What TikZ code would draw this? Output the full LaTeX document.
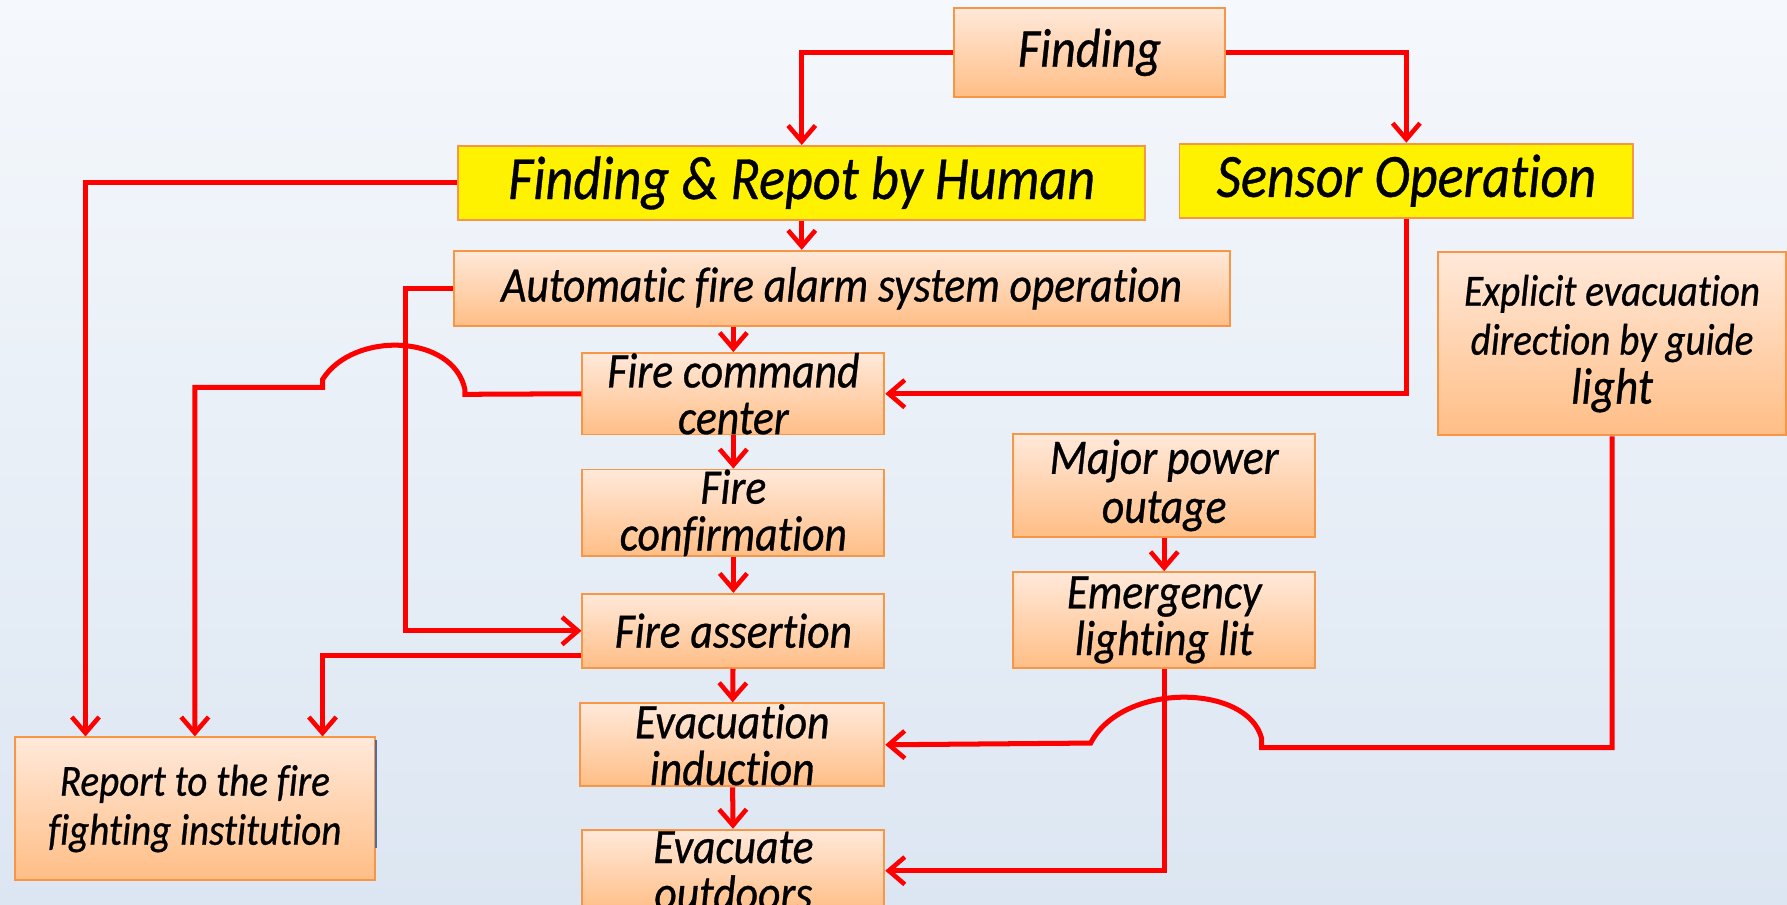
\documentclass[tikz,border=0pt]{standalone}
\usepackage{fontspec}
\usetikzlibrary{arrows.meta}
\newfontfamily\boxfont{Carlito}[FakeStretch=0.88, FakeBold=0.6, Ligatures=NoCommon]

\definecolor{bgtop}{HTML}{F5F8FC}
\definecolor{bgbot}{HTML}{DCE6F2}
\definecolor{boxtop}{HTML}{FFE9DA}
\definecolor{boxbot}{HTML}{FFBE86}
\definecolor{boxline}{HTML}{F79646}
\definecolor{wirered}{HTML}{FF0000}
\definecolor{edgeblue}{HTML}{4F6C9F}

\tikzset{
  flowbox/.style={draw=boxline, line width=1.6pt, top color=boxtop, bottom color=boxbot,
    align=center, inner sep=0pt, font=\boxfont\itshape\fontsize{43.5}{41}\selectfont},
  keybox/.style={draw=boxline, line width=1.6pt, fill=yellow,
    align=center, inner sep=0pt, font=\boxfont\itshape\fontsize{54}{56}\selectfont},
  small/.style={font=\boxfont\itshape\fontsize{39}{43}\selectfont},
  wire/.style={draw=wirered, line width=4.4pt, line join=miter},
  flow/.style={wire, -{Straight Barb[length=14pt,width=24pt,line width=4pt]}}
}

\begin{document}
\begin{tikzpicture}[x=1pt,y=-1pt]
  \shade[top color=bgtop,bottom color=bgbot] (0,0) rectangle (1568,794);
  \useasboundingbox (0,0) rectangle (1568,794);

  % boxes
  \node[flowbox, minimum width=238, minimum height=78, font=\boxfont\itshape\fontsize{48}{50}\selectfont]
    (finding) at (956,46) {Finding};
  \node[keybox, minimum width=603, minimum height=65] (human) at (703.5,160.5) {Finding \& Repot by Human};
  \node[keybox, minimum width=398, minimum height=65] (sensor) at (1234,158.5) {Sensor Operation};
  \node[flowbox, minimum width=681, minimum height=66] (auto) at (738.5,253) {Automatic fire alarm system operation};
  \node[flowbox, small, minimum width=305, minimum height=161] (guide) at (1414.5,301.5)
    {Explicit evacuation\\direction by guide\\{\fontsize{45}{43}\selectfont light}};
  \node[flowbox, minimum width=265, minimum height=65] (command) at (643.5,345.5) {Fire command\\center};
  \node[flowbox, minimum width=265, minimum height=90] (power) at (1021.5,426)
    {Major power\\[2pt]outage};
  \node[flowbox, minimum width=265, minimum height=66] (confirm) at (643.5,450) {Fire\\confirmation};
  \node[flowbox, minimum width=265, minimum height=84] (lighting) at (1021.5,544) {Emergency\\lighting lit};
  \node[flowbox, minimum width=265, minimum height=65] (assertion) at (643.5,553.5) {Fire assertion};
  \node[flowbox, minimum width=267, minimum height=73] (induction) at (642.5,653.5) {Evacuation\\induction};
  \node[flowbox, minimum width=265, minimum height=72] (outdoors) at (643.5,764) {Evacuate\\outdoors};
  \node[flowbox, small, minimum width=316, minimum height=125] (report) at (171,709.5)
    {Report to the fire\\fighting institution};
  \draw[edgeblue, line width=2pt] (330,649) -- (330,744);

  % lanes on the left
  \coordinate (laneA) at (75,0);
  \coordinate (laneB) at (356,0);
  \coordinate (laneC) at (171,0);
  \coordinate (laneD) at (283,0);

  \draw[flow] (finding.west) -| (human.north);
  \draw[flow] (finding.east) -| (sensor.north);
  \draw[flow] (human.south) -- (human.south |- auto.north);
  \draw[flow] (human.west) -| (laneA |- report.north);
  \draw[flow] (command.north |- auto.south) -- (command.north);
  \draw[flow] (sensor.south) |- (command.east);
  \draw[flow] (auto.west) -| (laneB |- assertion.west) -- (assertion.west);
  \draw[flow] ([yshift=-22pt]assertion.west) -| (laneD |- report.north);
  \draw[flow] (power.south) -- (lighting.north);
  \draw[flow] (lighting.south) |- (outdoors.east);

  \foreach \from/\to in {command/confirm,confirm/assertion,assertion/induction,induction/outdoors}
    \draw[flow] (\from) -- (\to);

  % crossings
  \draw[flow] (command.west) -- (408,346) -- (408,342)
    .. controls (398,293) and (310,290) .. (283,333) -- (283,340) -| (laneC |- report.north);
  \draw[flow] (guide.south) |- (1107,656) -- (1107,648)
    .. controls (1095,600) and (985,598) .. (957,652) -- (induction.east);

\end{tikzpicture}
\end{document}
